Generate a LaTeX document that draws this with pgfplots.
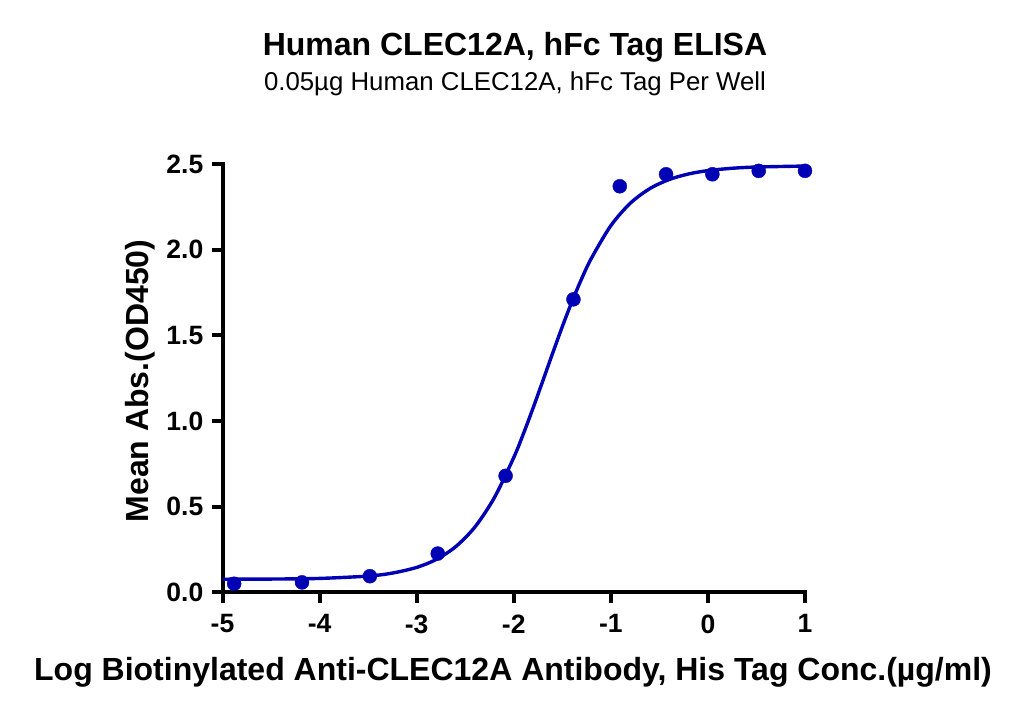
\documentclass[border=0pt]{standalone}
\usepackage{pgfplots}
\pgfplotsset{compat=1.18}
\usepackage{fontspec}
\setmainfont{Liberation Sans}
\definecolor{cblue}{RGB}{0,0,180}
\begin{document}
\begin{tikzpicture}[x=1pt,y=1pt]
\begin{axis}[
  at={(222.5pt,124.7pt)}, anchor=south west,
  scale only axis, width=582.5pt, height=428.3pt,
  xmin=-5, xmax=1, ymin=0, ymax=2.5,
  axis lines*=left,
  axis line style={line width=4pt, line cap=rect},
  every tick/.style={black, line width=4pt},
  tick align=outside, major tick length=11pt,
  xtick={-5,-4,-3,-2,-1,0,1},
  xticklabels={-5,-4,-3,-2,-1,0,1},
  ytick={0,0.5,1,1.5,2,2.5},
  yticklabels={0.0,0.5,1.0,1.5,2.0,2.5},
  tick label style={font=\bfseries\fontsize{26.5}{30}\selectfont},
  xticklabel style={inner sep=0pt, yshift=-11pt},
  yticklabel style={inner sep=0pt, xshift=-8pt},
  clip=false,
]
\addplot[cblue, line width=3.4pt, smooth] coordinates {
(-5,0.0764) (-4.5,0.0773) (-4,0.0810) (-3.5,0.0948) (-3.25,0.1122) (-3,0.1453)
(-2.8,0.1913) (-2.6,0.2655) (-2.4,0.3811) (-2.2,0.5522) (-2.0,0.7868)
(-1.9,0.9263) (-1.8,1.0772) (-1.7,1.2351) (-1.6,1.3945) (-1.5,1.5504)
(-1.4,1.6970) (-1.3,1.8311) (-1.2,1.9501) (-1.0,2.1400) (-0.8,2.2708)
(-0.6,2.3559) (-0.4,2.4092) (-0.2,2.4418) (0,2.4614) (0.25,2.4751)
(0.5,2.4823) (1,2.4880)
};
\addplot[only marks, mark=*, mark size=7pt, cblue, mark options={fill=cblue, draw=cblue}] coordinates {
(-4.880,0.050) (-4.181,0.058) (-3.482,0.094) (-2.783,0.226) (-2.084,0.680)
(-1.385,1.710) (-0.908,2.370) (-0.431,2.440) (0.046,2.440) (0.523,2.460) (1.000,2.460)
};
\end{axis}
\node[font=\bfseries\fontsize{32}{38}\selectfont] at (515,670) {Human CLEC12A, hFc Tag ELISA};
\node[font=\fontsize{25.8}{30}\selectfont] at (515,633) {0.05µg Human CLEC12A, hFc Tag Per Well};
\node[font=\bfseries\fontsize{32}{38}\selectfont] at (513,45) {Log Biotinylated Anti-CLEC12A Antibody, His Tag Conc.(µg/ml)};
\node[font=\bfseries\fontsize{32}{38}\selectfont, rotate=90] at (140,336) {Mean Abs.(OD450)};
\pgfresetboundingbox
\useasboundingbox (0,0) rectangle (1030,717);
\end{tikzpicture}
\end{document}
